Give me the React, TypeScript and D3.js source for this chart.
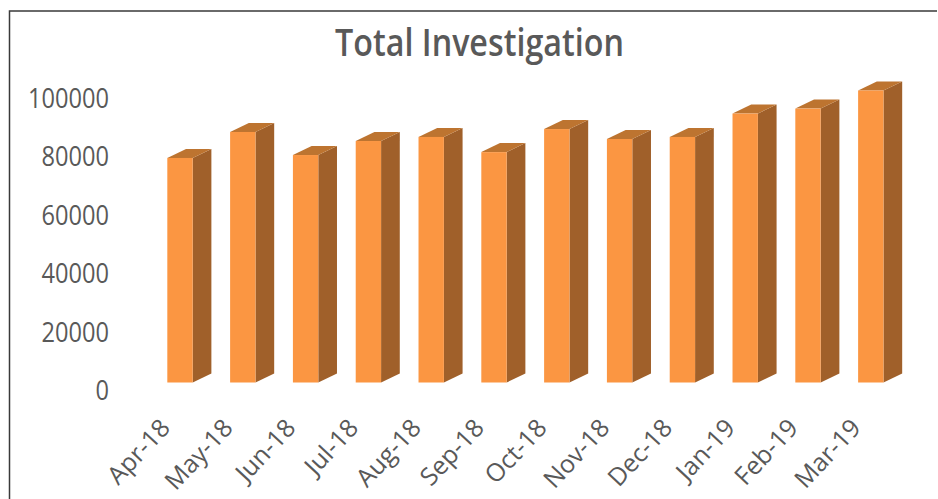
import React, { useEffect, useRef } from 'react';
import * as d3 from 'd3';

const months = ['Apr-18', 'May-18', 'Jun-18', 'Jul-18', 'Aug-18', 'Sep-18', 'Oct-18', 'Nov-18', 'Dec-18', 'Jan-19', 'Feb-19', 'Mar-19'];
const investigations = [76900, 85800, 77900, 82700, 84100, 78900, 86800, 83400, 84100, 92100, 93800, 100000];
const yTicks = [0, 20000, 40000, 60000, 80000, 100000];

const width = 938;
const height = 499;
const font = '"Open Sans", sans-serif';
const textColor = '#595959';

// depth of the fake 3d column
const depthX = 18.7;
const depthY = 9;
// the axis labels sit a bit below the front edge of the columns
const labelDrop = 8;
// width of one digit on the y axis, the reference font is narrow
const digitWidth = 13.5;

export default function App() {
    const ref = useRef<SVGSVGElement>(null);

    useEffect(() => {
        const svg = d3.select(ref.current);
        svg.selectAll('*').remove();

        const xScale = d3.scaleBand<string>()
            .domain(months)
            .range([148.6, 902.2])
            .paddingInner(0.596)
            .paddingOuter(0.298);

        const yScale = d3.scaleLinear()
            .domain([0, 100000])
            .range([382.5, 90.5]);

        // chart frame, only top and left are in the crop
        svg.append('path')
            .attr('d', `M9.5,${height} V11 H${width - 1}`)
            .attr('fill', 'none')
            .attr('stroke', '#3a3a3a')
            .attr('stroke-width', 1.5);

        svg.append('text')
            .attr('x', 479.5)
            .attr('y', 56)
            .attr('text-anchor', 'middle')
            .attr('font-family', font)
            .attr('font-size', 37)
            .attr('font-weight', 600)
            .attr('textLength', 289)
            .attr('lengthAdjust', 'spacingAndGlyphs')
            .attr('fill', textColor)
            .text('Total Investigation');

        const bars = svg.selectAll('g.bar')
            .data(months)
            .enter()
            .append('g')
            .attr('class', 'bar');

        const w = xScale.bandwidth();

        // side face
        bars.append('path')
            .attr('fill', '#a0602a')
            .attr('d', (d, i) => {
                const x = xScale(d)! + w;
                const top = yScale(investigations[i]);
                const base = yScale(0);
                return `M${x},${top} L${x + depthX},${top - depthY} V${base - depthY} L${x},${base} Z`;
            });

        // top face
        bars.append('path')
            .attr('fill', '#bd7430')
            .attr('d', (d, i) => {
                const x = xScale(d)!;
                const top = yScale(investigations[i]);
                return `M${x},${top} L${x + depthX},${top - depthY} H${x + w + depthX} L${x + w},${top} Z`;
            });

        // front face
        bars.append('rect')
            .attr('fill', '#fb9642')
            .attr('x', d => xScale(d)!)
            .attr('y', (d, i) => yScale(investigations[i]))
            .attr('width', w)
            .attr('height', (d, i) => yScale(0) - yScale(investigations[i]));

        // y axis labels
        const yAxis = svg.append('g')
            .attr('transform', `translate(109, ${labelDrop})`)
            .call(d3.axisLeft(yScale).tickValues(yTicks).tickFormat(d3.format('d')).tickSize(0).tickPadding(0));
        yAxis.select('.domain').remove();
        yAxis.selectAll<SVGTextElement, number>('text')
            .attr('font-family', font)
            .attr('font-size', 28)
            .attr('fill', textColor)
            .attr('textLength', d => String(d).length * digitWidth)
            .attr('lengthAdjust', 'spacingAndGlyphs');

        // x axis labels
        const xAxis = svg.append('g')
            .attr('transform', 'translate(0, 423)')
            .call(d3.axisBottom(xScale).tickSize(0).tickPadding(0));
        xAxis.select('.domain').remove();
        xAxis.selectAll('text')
            .attr('font-family', font)
            .attr('font-size', 25)
            .attr('fill', textColor)
            .attr('text-anchor', 'end')
            .attr('dy', '0.35em')
            .attr('transform', 'translate(-15, 0) rotate(-47)');
    }, []);

    return (
        <svg
            ref={ref}
            width={width}
            height={height}
            style={{ position: 'absolute', left: 0, top: 0, background: '#fff' }}
        />
    );
}
